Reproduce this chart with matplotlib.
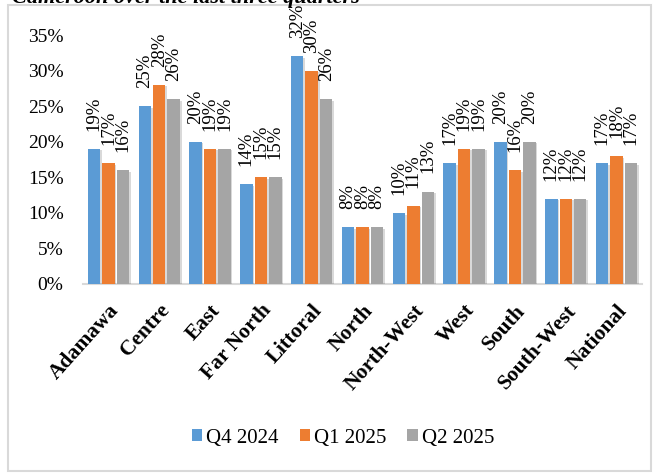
import numpy as np
import matplotlib
matplotlib.use("Agg")
import matplotlib.pyplot as plt
import matplotlib.patheffects as pe
from matplotlib.patches import Rectangle, Patch
from matplotlib.ticker import PercentFormatter

regions = ["Adamawa", "Centre", "East", "Far North", "Littoral", "North",
           "North-West", "West", "South", "South-West", "National"]
q4_2024 = [19, 25, 20, 14, 32, 8, 10, 17, 20, 12, 17]
q1_2025 = [17, 28, 19, 15, 30, 8, 11, 19, 16, 12, 18]
q2_2025 = [16, 26, 19, 15, 26, 8, 13, 19, 20, 12, 17]
series_names = ["Q4 2024", "Q1 2025", "Q2 2025"]
y_ticks = [0, 5, 10, 15, 20, 25, 30, 35]

plt.rcParams["font.family"] = ["Liberation Serif", "DejaVu Serif"]

fig = plt.figure(figsize=(6.54, 4.74), dpi=100)
ax = fig.add_axes([83 / 654, 1 - 284 / 474, (642 - 83) / 654, (284 - 35) / 474])

# chart frame
fig.patches.append(Rectangle((8 / 654, 3 / 474), (651 - 8) / 654, (469 - 3) / 474,
                             transform=fig.transFigure, fill=False,
                             edgecolor="#d9d9d9", linewidth=1.5))

# title line sits mostly above the page edge
fig.text(12 / 654, 1 - 2.5 / 474, "Cameroon over the last three quarters",
         fontsize=16, fontweight="bold", fontstyle="italic", va="baseline", ha="left")

colors = ["#5b9bd5", "#ed7d31", "#a5a5a5"]
x = np.arange(len(regions))
width = 0.245
offsets = [-0.285, 0, 0.285]
shadow = [pe.SimplePatchShadow(offset=(1.2, -1.2), shadow_rgbFace="#000000", alpha=0.15), pe.Normal()]

for vals, off, col in zip([q4_2024, q1_2025, q2_2025], offsets, colors):
    bars = ax.bar(x + off, vals, width, color=col, zorder=3)
    for b in bars:
        b.set_path_effects(shadow)
    for xi, v in zip(x + off, vals):
        ax.annotate(f"{v}%", (xi, v), xytext=(0, 13), textcoords="offset points",
                    rotation=90, ha="center", va="bottom", fontsize=13.5, annotation_clip=False)

ax.set_xlim(-0.5, len(regions) - 0.5)
ax.set_ylim(0, 35)
ax.set_yticks(y_ticks)
ax.yaxis.set_major_formatter(PercentFormatter(decimals=0))
ax.tick_params(axis="y", length=0, labelsize=14, pad=14)
ax.set_xticks(x)
ax.set_xticklabels(regions, rotation=48, ha="right", rotation_mode="anchor",
                   fontsize=15.5, fontweight="bold")
ax.tick_params(axis="x", length=0, pad=12)

for side in ["top", "right", "left"]:
    ax.spines[side].set_visible(False)
ax.spines["bottom"].set_color("#d9d9d9")
ax.spines["bottom"].set_linewidth(1.5)

handles = [Patch(facecolor=c, edgecolor="none") for c in colors]
fig.legend(handles, series_names, loc="center", bbox_to_anchor=(343 / 654, 1 - 438 / 474),
           ncol=3, frameon=False, fontsize=15, handlelength=0.5, handleheight=0.5,
           handletextpad=0.2, columnspacing=1.0)

fig.savefig("out.png", dpi=100)
